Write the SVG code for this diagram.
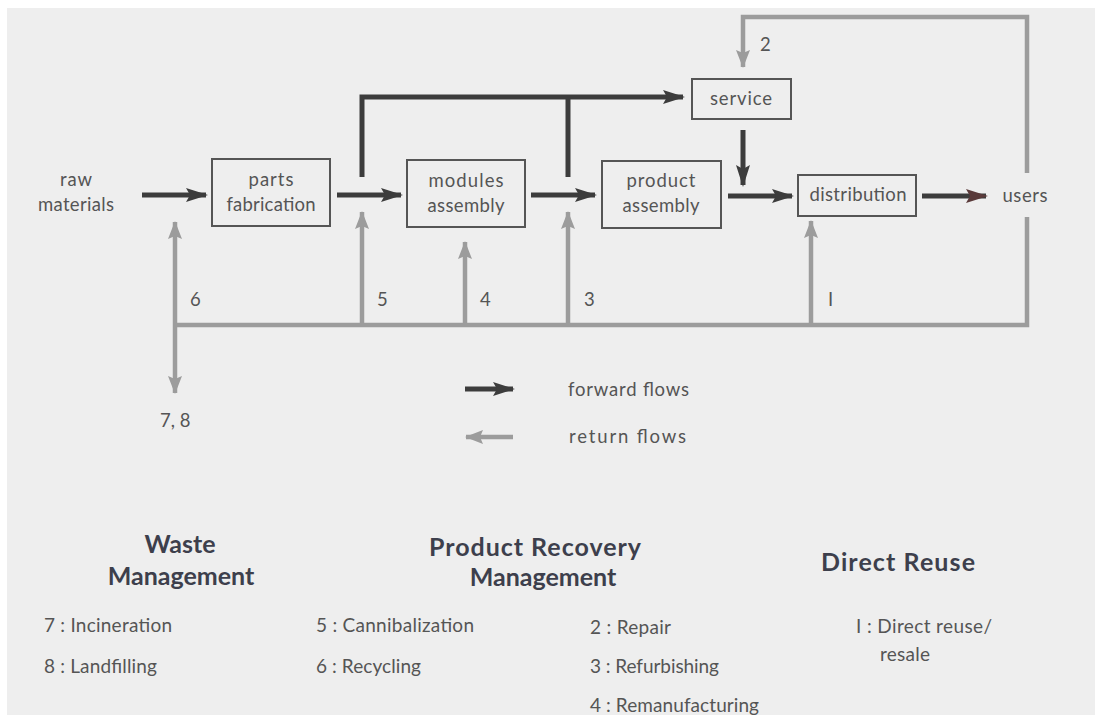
<svg xmlns="http://www.w3.org/2000/svg" width="1095" height="715" viewBox="0 0 1095 715">
  <style>
    .box { fill: none; stroke: #555; stroke-width: 2; }
    .lbl { font-family: Lato, "Open Sans", sans-serif; font-size: 18.5px; fill: #555; }
    .mid { text-anchor: middle; }
    .fwd { fill: none; stroke: #3c3c3c; stroke-width: 5; }
    .ret { fill: none; stroke: #9c9c9c; stroke-width: 4.5; }
    .head { font-family: Lato, "Open Sans", sans-serif; font-size: 25px; font-weight: bold; fill: #3d3f4c; text-anchor: middle; }
    .item { font-family: Lato, "Open Sans", sans-serif; font-size: 19px; fill: #555; }
  </style>
  <defs>
    <marker id="fh" markerUnits="userSpaceOnUse" markerWidth="22" markerHeight="16" refX="20" refY="8" orient="auto">
      <path d="M0,1 L22,8 L0,15 L4,8 Z" fill="#3c3c3c"/>
    </marker>
    <marker id="fhr" markerUnits="userSpaceOnUse" markerWidth="22" markerHeight="16" refX="20" refY="8" orient="auto">
      <path d="M0,1 L22,8 L0,15 L4,8 Z" fill="#5a3a3a"/>
    </marker>
    <marker id="rh" markerUnits="userSpaceOnUse" markerWidth="18" markerHeight="16" refX="17" refY="8" orient="auto">
      <path d="M0,1 L18,8 L0,15 L3,8 Z" fill="#9c9c9c"/>
    </marker>
  </defs>

  <!-- page -->
  <rect x="0" y="0" width="1095" height="715" fill="#ffffff"/>
  <rect x="7" y="8" width="1088" height="707" fill="#eeeeee"/>

  <!-- connectors -->
  <g id="connectors">
    <!-- forward flows -->
    <path class="fwd" d="M142,195 H206" marker-end="url(#fh)"/>
    <path class="fwd" d="M337,195 H401" marker-end="url(#fh)"/>
    <path class="fwd" d="M362,177 V97 H683" marker-end="url(#fh)"/>
    <path class="fwd" d="M568,97 V177"/>
    <path class="fwd" d="M531,195 H595" marker-end="url(#fh)"/>
    <path class="fwd" d="M728,196 H792" marker-end="url(#fh)"/>
    <path class="fwd" d="M743,130 V185" marker-end="url(#fh)"/>
    <path class="fwd" d="M922,196 H986" stroke="#5a3a3a" marker-end="url(#fhr)"/>
    <!-- return flows -->
    <path class="ret" d="M1027,173 V17 H743 V67" marker-end="url(#rh)"/>
    <path class="ret" d="M1027,217 V325 H175"/>
    <path class="ret" d="M811,325 V221" marker-end="url(#rh)"/>
    <path class="ret" d="M568,325 V212" marker-end="url(#rh)"/>
    <path class="ret" d="M465,325 V242" marker-end="url(#rh)"/>
    <path class="ret" d="M362,325 V212" marker-end="url(#rh)"/>
    <path class="ret" d="M175,325 V222" marker-end="url(#rh)"/>
    <path class="ret" d="M175,325 V393" marker-end="url(#rh)"/>
  </g>

  <!-- flow numbers -->
  <g id="flow-labels" class="lbl">
    <text x="760" y="51">2</text>
    <text x="828" y="306">I</text>
    <text x="584" y="306">3</text>
    <text x="480" y="306">4</text>
    <text x="377" y="306">5</text>
    <text x="190" y="306">6</text>
    <text x="160" y="427">7, 8</text>
  </g>

  <!-- nodes -->
  <g id="raw-materials">
    <text class="lbl mid" x="76" y="186" textLength="32">raw</text>
    <text class="lbl mid" x="76" y="211" textLength="76">materials</text>
  </g>
  <g id="parts-fabrication">
    <rect class="box" x="212" y="159" width="118" height="67"/>
    <text class="lbl mid" x="271" y="186" textLength="45">parts</text>
    <text class="lbl mid" x="271" y="211" textLength="89">fabrication</text>
  </g>
  <g id="modules-assembly">
    <rect class="box" x="407" y="160" width="118" height="67"/>
    <text class="lbl mid" x="466" y="187" textLength="75">modules</text>
    <text class="lbl mid" x="466" y="212" textLength="77">assembly</text>
  </g>
  <g id="product-assembly">
    <rect class="box" x="602" y="161" width="119" height="67"/>
    <text class="lbl mid" x="661" y="187" textLength="69">product</text>
    <text class="lbl mid" x="661" y="212" textLength="77">assembly</text>
  </g>
  <g id="service">
    <rect class="box" x="692" y="79" width="99" height="40"/>
    <text class="lbl mid" x="741" y="105" textLength="62">service</text>
  </g>
  <g id="distribution">
    <rect class="box" x="798" y="175" width="118" height="41"/>
    <text class="lbl mid" x="858" y="201" textLength="97">distribution</text>
  </g>
  <g id="users">
    <text class="lbl mid" x="1025" y="202" textLength="45">users</text>
  </g>

  <!-- legend -->
  <g id="legend">
    <path class="fwd" d="M465,389 H513" marker-end="url(#fh)"/>
    <text class="lbl" x="568" y="396" textLength="121">forward flows</text>
    <path class="ret" d="M513,437 H466" marker-end="url(#rh)"/>
    <text class="lbl" x="569" y="443" textLength="117">return flows</text>
  </g>

  <!-- categories -->
  <g id="waste-management">
    <text class="head" x="180" y="553">Waste</text>
    <text class="head" x="181" y="585">Management</text>
    <text class="item" x="44" y="632" textLength="128">7 : Incineration</text>
    <text class="item" x="44" y="673" textLength="113">8 : Landfilling</text>
  </g>
  <g id="product-recovery-management">
    <text class="head" x="535" y="556" textLength="212">Product Recovery</text>
    <text class="head" x="543" y="586">Management</text>
    <text class="item" x="316" y="632" textLength="158">5 : Cannibalization</text>
    <text class="item" x="316" y="673" textLength="105">6 : Recycling</text>
    <text class="item" x="590" y="634" textLength="81">2 : Repair</text>
    <text class="item" x="590" y="673" textLength="129">3 : Refurbishing</text>
    <text class="item" x="590" y="712" textLength="169">4 : Remanufacturing</text>
  </g>
  <g id="direct-reuse">
    <text class="head" x="898" y="571" textLength="154">Direct Reuse</text>
    <text class="item" x="856" y="633" textLength="136">I : Direct reuse/</text>
    <text class="item" x="880" y="661" textLength="50">resale</text>
  </g>
</svg>
